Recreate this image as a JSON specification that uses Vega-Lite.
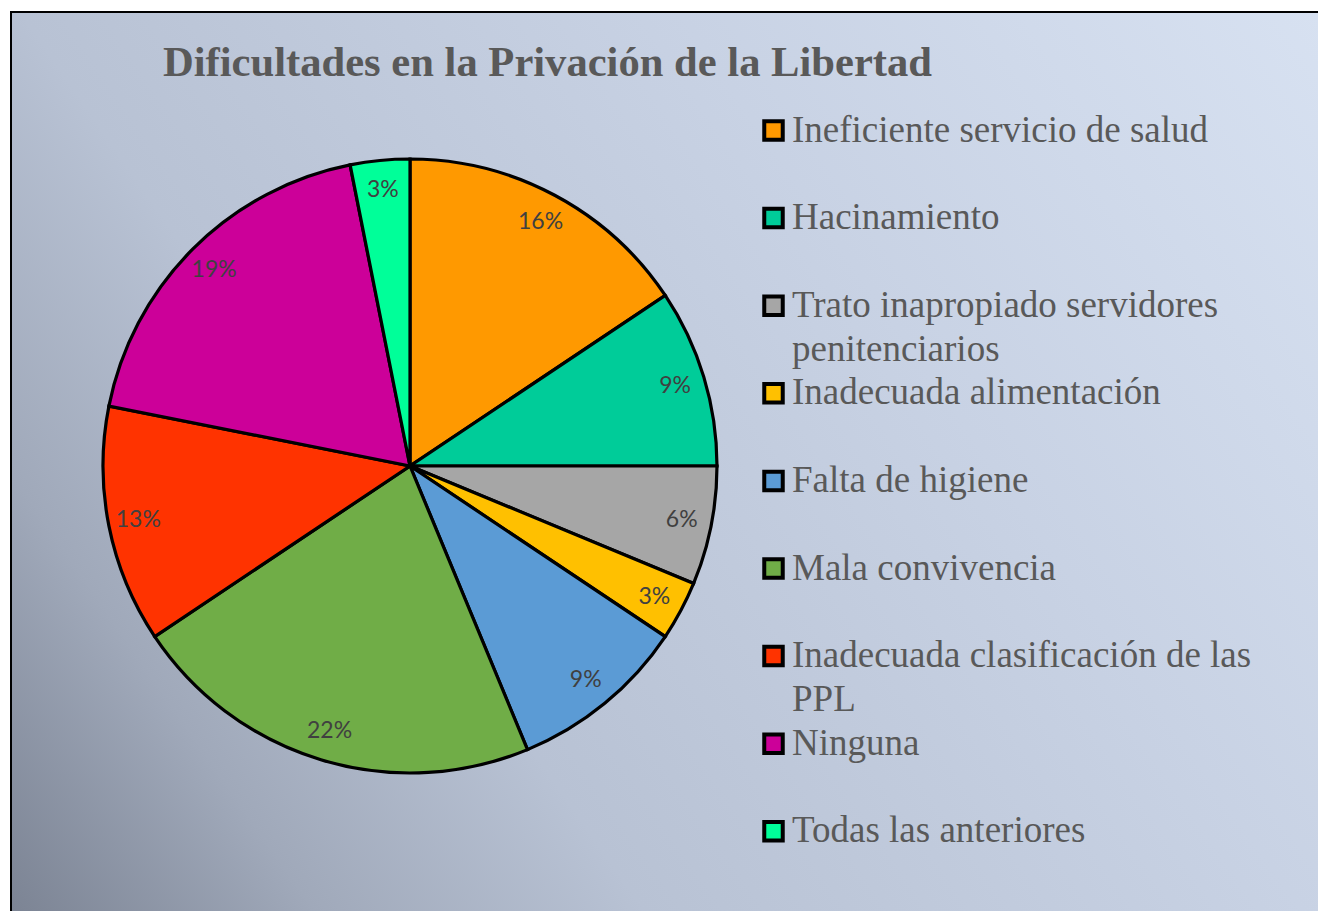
{
  "$schema": "https://vega.github.io/schema/vega-lite/v6.json",
  "background": "white",
  "padding": {"left": 10, "top": 11, "right": 0, "bottom": -8},
  "title": {
    "text": "Dificultades en la Privación de la Libertad",
    "anchor": "start",
    "frame": "group",
    "dx": 152,
    "offset": -74,
    "font": "Liberation Serif",
    "fontSize": 42.6,
    "fontWeight": "bold",
    "color": "#595959"
  },
  "datasets": {
    "encuesta": [
      {"orden": 1, "categoria": "Ineficiente servicio de salud", "n": 5, "pct": "16%"},
      {"orden": 2, "categoria": "Hacinamiento", "n": 3, "pct": "9%"},
      {"orden": 3, "categoria": "Trato inapropiado servidores penitenciarios", "n": 2, "pct": "6%"},
      {"orden": 4, "categoria": "Inadecuada alimentación", "n": 1, "pct": "3%"},
      {"orden": 5, "categoria": "Falta de higiene", "n": 3, "pct": "9%"},
      {"orden": 6, "categoria": "Mala convivencia", "n": 7, "pct": "22%"},
      {"orden": 7, "categoria": "Inadecuada clasificación de las PPL", "n": 4, "pct": "13%"},
      {"orden": 8, "categoria": "Ninguna", "n": 6, "pct": "19%"},
      {"orden": 9, "categoria": "Todas las anteriores", "n": 1, "pct": "3%"}
    ]
  },
  "spacing": 0,
  "bounds": "flush",
  "hconcat": [
    {
      "width": 798,
      "height": 908,
      "view": {
        "fill": {
          "gradient": "linear",
          "x1": 1.0094, "y1": -0.7973, "x2": -0.4864, "y2": 0.3842,
          "stops": [
            {"offset": 0, "color": "#d7e1f1"},
            {"offset": 0.33, "color": "#c8d2e4"},
            {"offset": 0.67, "color": "#b8c2d4"},
            {"offset": 0.84, "color": "#a0a9ba"},
            {"offset": 1, "color": "#7b8393"}
          ]
        },
        "stroke": "black",
        "strokeWidth": 2,
        "strokeDash": [798, 1706, 908]
      },
      "data": {"name": "encuesta"},
      "encoding": {
        "theta": {"field": "n", "type": "quantitative", "stack": true},
        "order": {"field": "orden", "type": "quantitative"}
      },
      "layer": [
        {
          "mark": {"type": "arc", "radius": 307, "stroke": "black", "strokeWidth": 3.2},
          "encoding": {
            "color": {
              "field": "categoria",
              "type": "nominal",
              "scale": {
                "domain": [
                  "Ineficiente servicio de salud",
                  "Hacinamiento",
                  "Trato inapropiado servidores penitenciarios",
                  "Inadecuada alimentación",
                  "Falta de higiene",
                  "Mala convivencia",
                  "Inadecuada clasificación de las PPL",
                  "Ninguna",
                  "Todas las anteriores"
                ],
                "range": ["#FF9900", "#00CC99", "#A6A6A6", "#FFC000", "#5B9BD5", "#70AD47", "#FF3300", "#CC0099", "#00FF99"]
              },
              "legend": {
                "orient": "none",
                "legendX": 744,
                "legendY": 100,
                "title": null,
                "padding": 0,
                "symbolType": "square",
                "symbolSize": 342,
                "symbolStrokeColor": "black",
                "symbolStrokeWidth": 4,
                "symbolOpacity": 1,
                "labelFont": "Liberation Serif",
                "labelFontSize": 37,
                "labelColor": "#595959",
                "labelLimit": 0,
                "labelOffset": 0,
                "rowPadding": 5.6,
                "gridAlign": "all",
                "labelExpr": "datum.label == 'Trato inapropiado servidores penitenciarios' ? ['Trato inapropiado servidores', 'penitenciarios'] : datum.label == 'Inadecuada clasificación de las PPL' ? ['Inadecuada clasificación de las', 'PPL'] : datum.label",
                "encode": {"labels": {"update": {"lineHeight": {"value": 44}}}}
              }
            }
          }
        },
        {
          "mark": {"type": "text", "radius": 277, "font": "Lato", "fontSize": 23, "fill": "#404040"},
          "encoding": {
            "text": {"field": "pct", "type": "nominal"},
            "color": {"value": "#404040"}
          }
        }
      ]
    },
    {
      "width": 510,
      "height": 908,
      "view": {
        "fill": {
          "gradient": "linear",
          "x1": 0.3957, "y1": -0.489, "x2": -1.1081, "y2": 1.3695,
          "stops": [
            {"offset": 0, "color": "#d7e1f1"},
            {"offset": 0.33, "color": "#c8d2e4"},
            {"offset": 0.67, "color": "#b8c2d4"},
            {"offset": 0.84, "color": "#a0a9ba"},
            {"offset": 1, "color": "#7b8393"}
          ]
        },
        "stroke": "black",
        "strokeWidth": 2,
        "strokeDash": [510, 5000]
      },
      "data": {"values": []},
      "mark": "point"
    }
  ]
}
